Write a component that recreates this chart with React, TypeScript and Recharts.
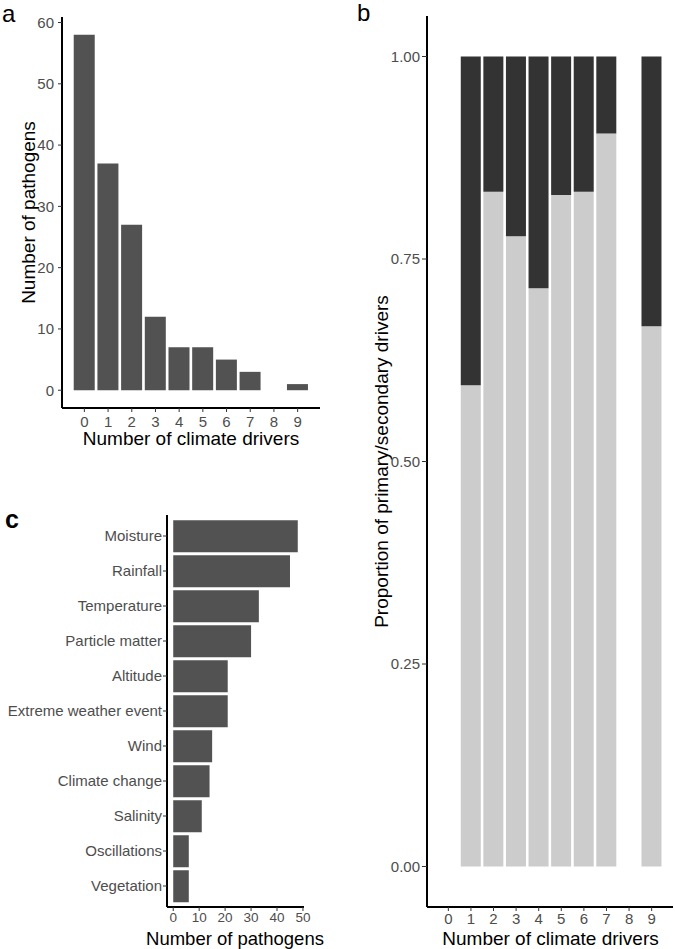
import { BarChart, Bar, XAxis, YAxis, Label } from 'recharts';

const FONT = '"Liberation Sans", Arial, sans-serif';

// panel a: pathogens per number of climate drivers
const driverNumbers = [0, 1, 2, 3, 4, 5, 6, 7, 8, 9];
const pathogenCounts = [58, 37, 27, 12, 7, 7, 5, 3, 0, 1];
const countTicks = [0, 10, 20, 30, 40, 50, 60];

// panel b: proportion primary / secondary
const propDrivers = [1, 2, 3, 4, 5, 6, 7, 9];
const primaryShare = [0.594, 0.833, 0.778, 0.714, 0.829, 0.833, 0.905, 0.667];
const secondaryShare = [0.406, 0.167, 0.222, 0.286, 0.171, 0.167, 0.095, 0.333];
const shareTicks = [0, 0.25, 0.5, 0.75, 1];

// panel c: pathogens per driver type
const driverTypes = [
  'Moisture',
  'Rainfall',
  'Temperature',
  'Particle matter',
  'Altitude',
  'Extreme weather event',
  'Wind',
  'Climate change',
  'Salinity',
  'Oscillations',
  'Vegetation',
];
const typeCounts = [48, 45, 33, 30, 21, 21, 15, 14, 11, 6, 6];
const pathogenTicks = [0, 10, 20, 30, 40, 50];

const countData = driverNumbers.map((d, i) => ({ drivers: d, pathogens: pathogenCounts[i] }));
const shareData = propDrivers.map((d, i) => ({ drivers: d, primary: primaryShare[i], secondary: secondaryShare[i] }));
const typeData = driverTypes.map((t, i) => ({ driver: t, pathogens: typeCounts[i] }));

const tickStyle = { fontSize: 15, fill: '#4d4d4d', fontFamily: FONT };
const smallTick = { fontSize: 13.5, fill: '#4d4d4d', fontFamily: FONT };
const axisLine = { stroke: '#000', strokeWidth: 2 };
const tickLine = { stroke: '#333', strokeWidth: 1 };

function Title({ x, y, value, rotate, size = 19 }: { x: number; y: number; value: string; rotate?: boolean; size?: number }) {
  return (
    <text
      x={x}
      y={y}
      textAnchor="middle"
      fontSize={size}
      fontFamily={FONT}
      fill="#000"
      transform={rotate ? `rotate(-90 ${x} ${y})` : undefined}
    >
      {value}
    </text>
  );
}

function PanelTag({ left, top, text, bold }: { left: number; top: number; text: string; bold?: boolean }) {
  return (
    <div
      style={{
        position: 'absolute',
        left,
        top,
        fontFamily: FONT,
        fontSize: bold ? 25 : 24,
        fontWeight: bold ? 'bold' : 'normal',
        lineHeight: 1,
      }}
    >
      {text}
    </div>
  );
}

export default function App() {
  return (
    <div style={{ position: 'absolute', left: 0, top: 0, width: 675, height: 949, background: '#fff', fontFamily: FONT }}>
      <div style={{ position: 'absolute', left: 0, top: 0 }}>
        <BarChart width={330} height={450} data={countData} margin={{ top: 17, right: 10, bottom: 0, left: 0 }} barCategoryGap="5%">
          <XAxis
            type="number"
            dataKey="drivers"
            domain={[-0.945, 9.945]}
            ticks={driverNumbers}
            interval={0}
            height={42}
            tickSize={4}
            tickMargin={4}
            tick={tickStyle}
            axisLine={axisLine}
            tickLine={tickLine}
          >
            <Label content={() => <Title x={191} y={445} value="Number of climate drivers" />} />
          </XAxis>
          <YAxis
            type="number"
            domain={[-2.9, 60.9]}
            ticks={countTicks}
            interval={0}
            width={62}
            tickSize={4}
            tickMargin={4}
            tick={tickStyle}
            axisLine={axisLine}
            tickLine={tickLine}
          >
            <Label content={() => <Title x={35} y={212.5} value="Number of pathogens" rotate />} />
          </YAxis>
          <Bar dataKey="pathogens" fill="#525252" isAnimationActive={false} />
        </BarChart>
      </div>

      <div style={{ position: 'absolute', left: 340, top: 0 }}>
        <BarChart width={335} height={949} data={shareData} margin={{ top: 16, right: 2, bottom: 0, left: 0 }} barCategoryGap="5%">
          <XAxis
            type="number"
            dataKey="drivers"
            domain={[-0.945, 9.945]}
            ticks={driverNumbers}
            interval={0}
            height={42}
            tickSize={4}
            tickMargin={2}
            tick={tickStyle}
            axisLine={axisLine}
            tickLine={tickLine}
          >
            <Label content={() => <Title x={210.5} y={945} value="Number of climate drivers" />} />
          </XAxis>
          <YAxis
            type="number"
            domain={[-0.05, 1.05]}
            ticks={shareTicks}
            interval={0}
            width={87}
            tickSize={5}
            tickMargin={2}
            tick={tickStyle}
            tickFormatter={(v: number) => v.toFixed(2)}
            axisLine={axisLine}
            tickLine={tickLine}
          >
            <Label content={() => <Title x={47.5} y={461.5} value="Proportion of primary/secondary drivers" rotate />} />
          </YAxis>
          <Bar dataKey="primary" stackId="s" fill="#cccccc" isAnimationActive={false} />
          <Bar dataKey="secondary" stackId="s" fill="#333333" isAnimationActive={false} />
        </BarChart>
      </div>

      <div style={{ position: 'absolute', left: 0, top: 490 }}>
        <BarChart
          layout="vertical"
          width={340}
          height={459}
          data={typeData}
          margin={{ top: 25, right: 36, bottom: 0, left: 0 }}
          barCategoryGap="5%"
        >
          <XAxis
            type="number"
            domain={[-2.4, 50.4]}
            ticks={pathogenTicks}
            interval={0}
            height={42}
            tickSize={4}
            tickMargin={1}
            tick={smallTick}
            axisLine={axisLine}
            tickLine={tickLine}
          >
            <Label content={() => <Title x={235} y={454.5} size={18.5} value="Number of pathogens" />} />
          </XAxis>
          <YAxis
            type="category"
            dataKey="driver"
            width={167}
            padding={{ top: 3.5, bottom: 3.5 }}
            interval={0}
            tickSize={4}
            tickMargin={1}
            tick={tickStyle}
            axisLine={axisLine}
            tickLine={tickLine}
          />
          <Bar dataKey="pathogens" fill="#525252" isAnimationActive={false} />
        </BarChart>
      </div>

      <PanelTag left={2} top={2} text="a" />
      <PanelTag left={357} top={1} text="b" />
      <PanelTag left={5} top={507} text="c" bold />
    </div>
  );
}
